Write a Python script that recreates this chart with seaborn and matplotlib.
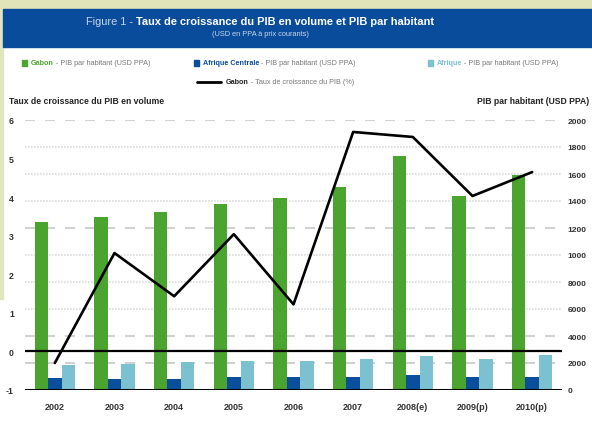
import numpy as np
import pandas as pd
import matplotlib
matplotlib.use("Agg")
import matplotlib.pyplot as plt
import seaborn as sns
from matplotlib.patches import Rectangle
from matplotlib.lines import Line2D

sns.set_theme(style="white")
plt.rcParams['font.family'] = ['Liberation Sans', 'DejaVu Sans']

# data
years = ["2002", "2003", "2004", "2005", "2006", "2007", "2008(e)", "2009(p)", "2010(p)"]
gabon_pib = [12450, 12800, 13200, 13800, 14200, 15050, 17350, 14350, 15900]
ac_pib = [890, 820, 820, 960, 960, 960, 1110, 960, 960]
afrique_pib = [1850, 1900, 2050, 2150, 2150, 2300, 2550, 2300, 2600]
gabon_growth = [-0.3, 2.55, 1.43, 3.04, 1.22, 5.69, 5.56, 4.03, 4.65]

series = ["Gabon", "Afrique Centrale", "Afrique"]
right_ticks = [0, 2000, 4000, 6000, 8000, 10000, 12000, 14000, 16000, 18000, 20000]
right_labels = ["0", "2000", "4000", "6000", "8000", "1000", "1200", "1400", "1600", "1800", "2000"]
left_ticks = [-1, 0, 1, 2, 3, 4, 5, 6]

green = "#4ba42f"
dblue = "#0b4f9c"
lblue = "#7cc1cf"
bar_blue = "#0a4c9c"
grey = "#777777"

df = pd.DataFrame({
    "annee": years * 3,
    "serie": np.repeat(series, len(years)),
    "pib": gabon_pib + ac_pib + afrique_pib,
})

fig = plt.figure(figsize=(5.92, 4.27), dpi=100)
fig.patch.set_facecolor("white")

# pale background strip on top and left edge, blue title band
fig.patches.append(Rectangle((0, 1 - 10 / 427), 1, 10 / 427, transform=fig.transFigure,
                             color="#e1e4b9", zorder=0))
fig.patches.append(Rectangle((0, 1 - 300 / 427), 2.5 / 592, 290 / 427, transform=fig.transFigure,
                             color="#dfe6c0", zorder=0))
fig.patches.append(Rectangle((3 / 592, 1 - 48 / 427), 1, 38 / 427, transform=fig.transFigure,
                             color=bar_blue, zorder=1))

ax = fig.add_axes([25 / 592, 1 - 391 / 427, 537 / 592, 270 / 427])
sns.barplot(data=df, x="annee", y="pib", hue="serie", palette=[green, dblue, lblue],
            width=0.68, saturation=1, linewidth=0, legend=False, ax=ax, zorder=3)
ax.set_xlabel("")
ax.set_ylabel("")

ax2 = ax.twinx()
sns.lineplot(x=np.arange(len(years)), y=gabon_growth, color="black", lw=1.9, ax=ax2, zorder=4)

# bars axis: right-hand scale
ax.set_ylim(0, 20000)
ax.set_xlim(-0.5, len(years) - 0.5)
ax.yaxis.tick_right()
ax.set_yticks(right_ticks)
ax.set_yticklabels(right_labels, fontsize=6, fontweight="bold", color="#333333")
ax.set_xticks(range(len(years)))
ax.set_xticklabels(years, fontsize=6.5, fontweight="bold", color="#333333")
ax.tick_params(axis="both", length=0, pad=4)
ax.tick_params(axis="x", pad=9)
for s in ax.spines.values():
    s.set_visible(False)

dashed_at = {2000, 4000, 12000, 20000}
for v in right_ticks[1:]:
    if v in dashed_at:
        ax.axhline(v, color="#c8c8c8", lw=1.2, ls=(0, (6, 6)), zorder=1)
    else:
        ax.axhline(v, color="#dcdcdc", lw=1.2, ls=(0, (1, 0.8)), zorder=1)
ax.axhline(0, color="black", lw=2.2, zorder=5)

# line axis: left-hand scale
ax2.set_ylim(-1, 6)
ax2.yaxis.tick_left()
ax2.set_yticks(left_ticks)
ax2.set_yticklabels([str(t) for t in left_ticks], fontsize=6.3, fontweight="bold", color="#333333")
ax2.tick_params(axis="y", length=0, pad=8)
ax2.axhline(0, color="black", lw=1.6, zorder=3)
for s in ax2.spines.values():
    s.set_visible(False)

renderer = fig.canvas.get_renderer()
inv = fig.transFigure.inverted()


def seg_text(x, y, parts, size, center=False):
    texts = []
    cur = x
    for s, color, weight in parts:
        t = fig.text(cur, y, s, color=color, fontweight=weight, fontsize=size, va="center")
        bb = t.get_window_extent(renderer=renderer)
        cur = inv.transform((bb.x1, bb.y0))[0]
        texts.append(t)
    if center:
        shift = (cur - x) / 2
        for t in texts:
            t.set_x(t.get_position()[0] - shift)


seg_text(260 / 592, 1 - 22 / 427,
         [("Figure 1 - ", "#c9d6ea", "normal"),
          ("Taux de croissance du PIB en volume et PIB par habitant", "white", "bold")],
         7.9, center=True)
fig.text(260 / 592, 1 - 35 / 427, "(USD en PPA à prix courants)", color="#c9d6ea",
         fontsize=5.3, ha="center", va="center")

# legend
leg_y1 = 1 - 64 / 427
leg_y2 = 1 - 83 / 427
for x0, col, name in [(22, green, "Gabon"), (194, dblue, "Afrique Centrale"), (428, lblue, "Afrique")]:
    fig.patches.append(Rectangle((x0 / 592, leg_y1 - 2.5 / 427), 5 / 592, 5 / 427,
                                 transform=fig.transFigure, color=col))
    seg_text((x0 + 9) / 592, leg_y1,
             [(name, col, "bold"), (" - PIB par habitant (USD PPA)", grey, "normal")], 5.2)
fig.lines.append(Line2D([197 / 592, 221 / 592], [leg_y2, leg_y2], transform=fig.transFigure,
                        color="black", lw=2))
seg_text(226 / 592, leg_y2,
         [("Gabon", "#222222", "bold"), (" - Taux de croissance du PIB (%)", grey, "normal")], 5.2)

fig.text(9 / 592, 1 - 102 / 427, "Taux de croissance du PIB en volume", fontsize=6.2,
         fontweight="bold", color="#222222", va="center")
fig.text(589 / 592, 1 - 102 / 427, "PIB par habitant (USD PPA)", fontsize=6.2,
         fontweight="bold", color="#222222", va="center", ha="right")

fig.savefig("out.png", dpi=100, facecolor=fig.get_facecolor())
